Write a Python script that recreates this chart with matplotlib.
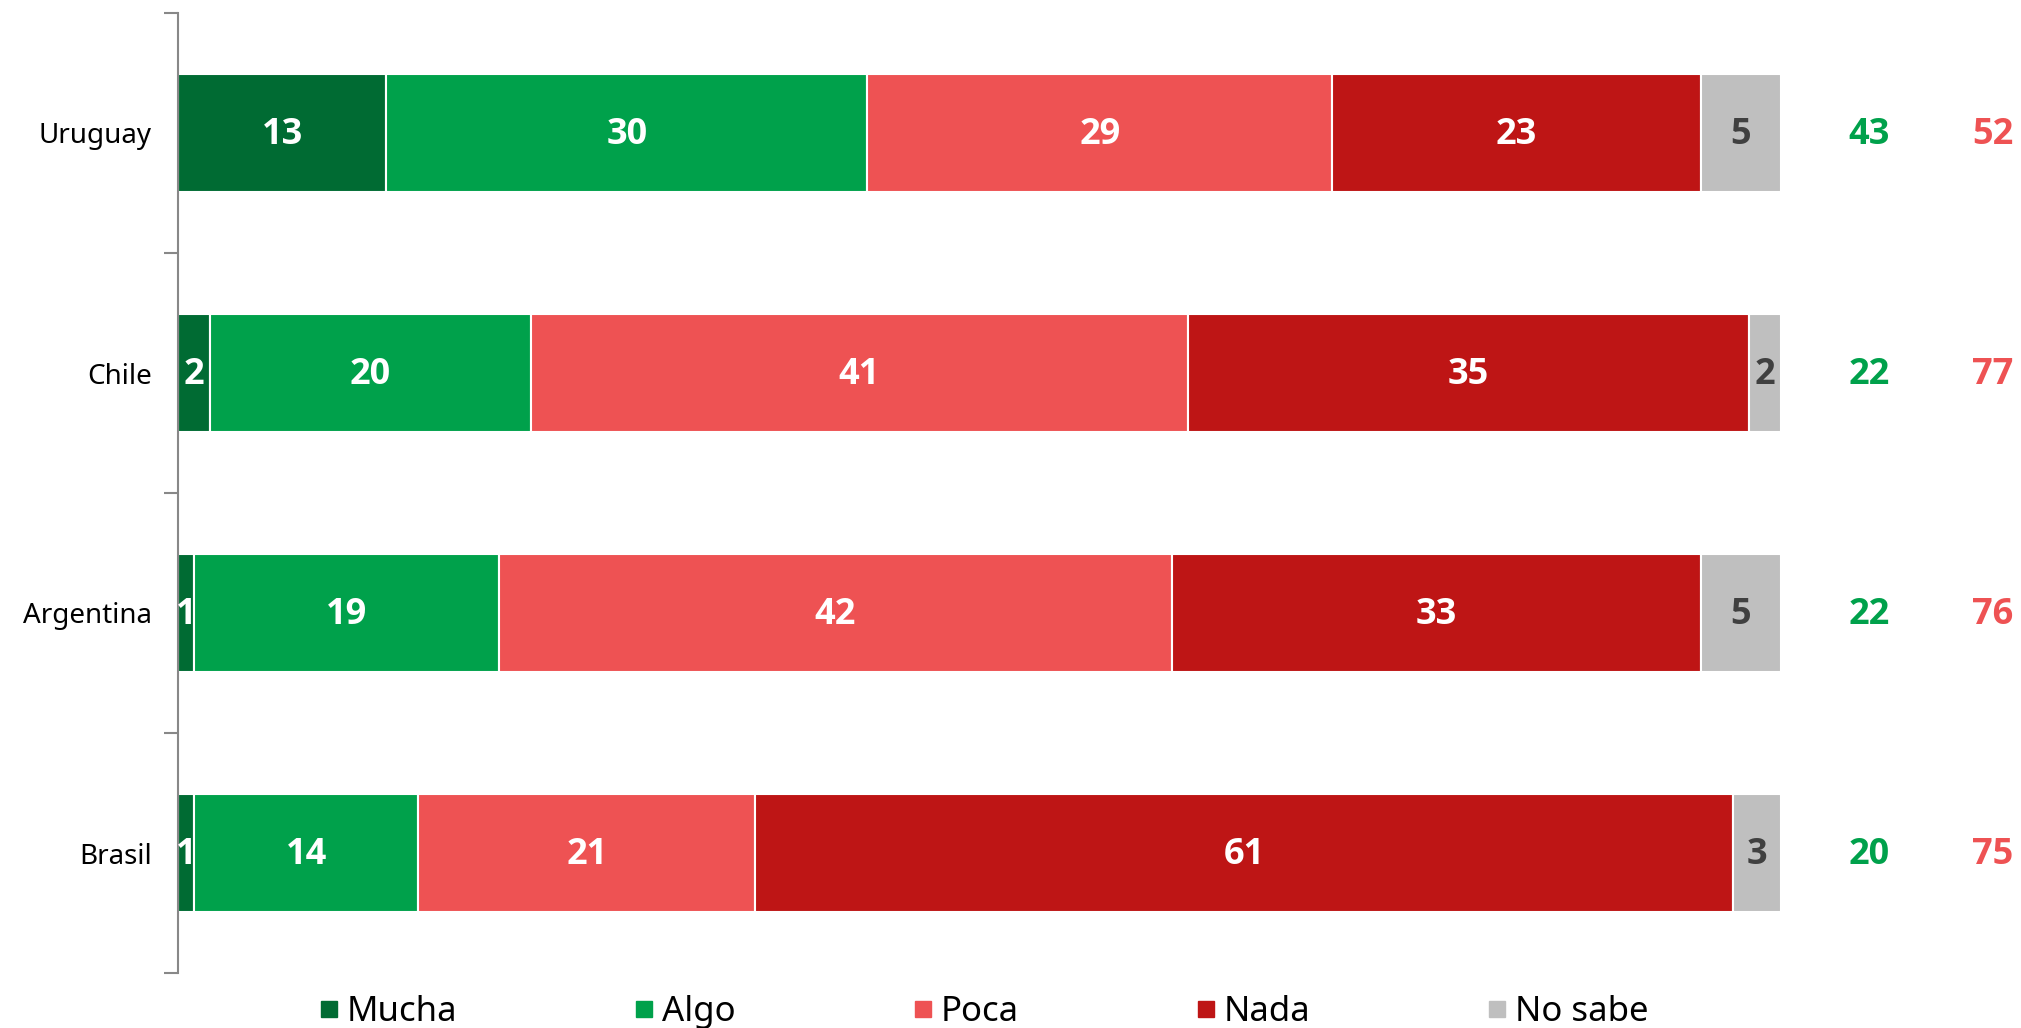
import matplotlib
matplotlib.use("Agg")
import matplotlib.pyplot as plt
from matplotlib.lines import Line2D
from matplotlib import font_manager
import numpy as np

countries = ["Uruguay", "Chile", "Argentina", "Brasil"]
series_names = ["Mucha", "Algo", "Poca", "Nada", "No sabe"]
mucha = [13, 2, 1, 1]
algo = [30, 20, 19, 14]
poca = [29, 41, 42, 21]
nada = [23, 35, 33, 61]
no_sabe = [5, 2, 5, 3]
total_pos = [43, 22, 22, 20]
total_neg = [52, 77, 76, 75]

colors = ["#006B33", "#00A14B", "#EE5253", "#BE1515", "#BFBFBF"]
label_colors = ["white", "white", "white", "white", "#404040"]
FONT = "Noto Sans"
avail = {f.name + "|" + str(f.weight) for f in font_manager.fontManager.ttflist}
BOLD = "Open Sans" if any(a.startswith("Open Sans|") and a.split("|")[1] in ("700", "bold") for a in avail) else "DejaVu Sans"

W, H = 2021, 1028
fig = plt.figure(figsize=(W / 100, H / 100), dpi=100)
ax_left = 178 / W
ax = fig.add_axes([ax_left, 55 / H, 1 - ax_left, (973 - 13) / H])
px_per_unit = (1781 - 178) / 100.0
ax.set_xlim(0, (W - 178) / px_per_unit)
ax.set_ylim(len(countries) - 0.5, -0.5)

y = np.arange(len(countries))
data = [mucha, algo, poca, nada, no_sabe]
left = np.zeros(len(countries))
for vals, c, lc in zip(data, colors, label_colors):
    vals = np.array(vals, dtype=float)
    ax.barh(y, vals, left=left, height=0.49, color=c, edgecolor="white", linewidth=1.5)
    for yi, v, l in zip(y, vals, left):
        ax.text(l + v / 2, yi + 0.01, f"{int(v)}", ha="center", va="center", color=lc,
                fontsize=26, fontweight="bold", family=BOLD)
    left += vals

for yi, p, n in zip(y, total_pos, total_neg):
    ax.text(105.5, yi + 0.01, f"{p}", ha="center", va="center", color="#00A14B",
            fontsize=26, fontweight="bold", family=BOLD)
    ax.text(113.2, yi + 0.01, f"{n}", ha="center", va="center", color="#EE5253",
            fontsize=26, fontweight="bold", family=BOLD)

for s in ["top", "right", "bottom"]:
    ax.spines[s].set_visible(False)
ax.spines["left"].set_color("#888888")
ax.spines["left"].set_linewidth(1.5)
ax.set_xticks([])
ax.set_yticks(y)
ax.set_yticklabels(countries, fontsize=20, family=FONT, color="black")
ax.tick_params(axis="y", which="major", length=0, pad=19)
ax.set_yticks(np.arange(-0.5, len(countries), 1.0), minor=True)
ax.tick_params(axis="y", which="minor", length=10, width=1.5, color="#888888")

handles = [Line2D([], [], marker="s", linestyle="none", markersize=11, color=c) for c in colors]
fig.legend(handles, series_names, loc="center", bbox_to_anchor=(0.487, 1 - 1012 / H),
           ncol=5, frameon=False, prop={"family": FONT, "size": 25},
           handlelength=0.5, handletextpad=0.25, columnspacing=5.15, borderaxespad=0)

fig.savefig("out.png", dpi=100)
